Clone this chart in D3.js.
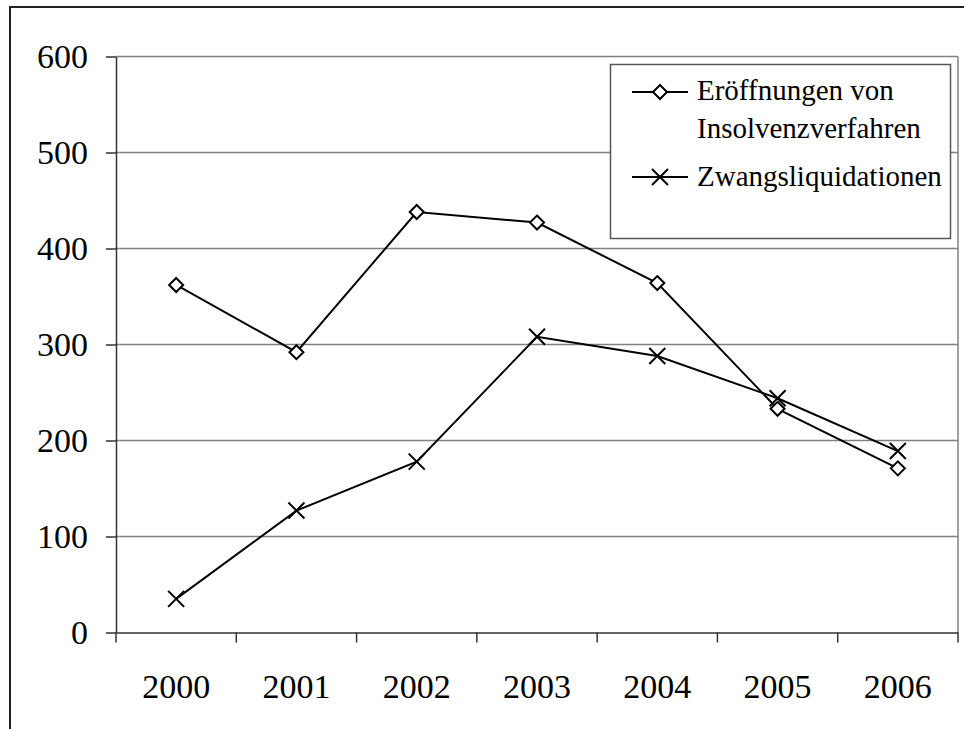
<!DOCTYPE html>
<html>
<head>
<meta charset="utf-8">
<script src="https://cdn.jsdelivr.net/npm/d3@7"></script>
<style>
  body { margin: 0; background: #fff; }
  svg { display: block; }
  svg text { font-family: "Liberation Serif", "Times New Roman", Times, Tinos, "Nimbus Roman", "DejaVu Serif", serif; }
</style>
</head>
<body>
<svg id="chart"></svg>
<script>
// chart data
var years = ["2000", "2001", "2002", "2003", "2004", "2005", "2006"];
var eroeffnungen = [362, 292, 438, 427, 364, 233, 171];
var zwangsliquidationen = [35, 127, 178, 308, 288, 244, 189];
var yTicks = [0, 100, 200, 300, 400, 500, 600];
var seriesNames = ["Eröffnungen von|Insolvenzverfahren", "Zwangsliquidationen"];

var dimensions = {
    width: 964,
    height: 729,
    margin: {
        top: 56.5,
        bottom: 96.5,
        right: 6,
        left: 116
    }
};

var svg = d3.select("#chart")
    .attr("width", dimensions.width)
    .attr("height", dimensions.height);

// outer frame (cut off at right and bottom like the reference)
svg.append("rect")
    .attr("x", 10)
    .attr("y", 7)
    .attr("width", 1000)
    .attr("height", 800)
    .attr("fill", "none")
    .attr("stroke", "#222")
    .attr("stroke-width", 2);

var xScale = d3.scaleBand()
    .domain(years)
    .range([dimensions.margin.left, dimensions.width - dimensions.margin.right])
    .padding(0);

var yScale = d3.scaleLinear()
    .domain([0, 600])
    .range([dimensions.height - dimensions.margin.bottom, dimensions.margin.top]);

var x0 = xScale.range()[0], x1 = xScale.range()[1];
var yBottom = yScale(0);

// gridlines
svg.append("g")
    .selectAll("line")
    .data(yTicks.filter(d => d > 0))
    .enter()
    .append("line")
    .attr("x1", x0)
    .attr("x2", x1)
    .attr("y1", d => yScale(d))
    .attr("y2", d => yScale(d))
    .attr("stroke", "#808080")
    .attr("stroke-width", 1.5);

// right border of plot area
svg.append("line")
    .attr("x1", x1).attr("x2", x1)
    .attr("y1", yScale(600)).attr("y2", yBottom)
    .attr("stroke", "#808080")
    .attr("stroke-width", 1.5);

// y axis
var yAxis = d3.axisLeft(yScale)
    .tickValues(yTicks)
    .tickSize(10)
    .tickPadding(18)
    .tickSizeOuter(0);
var yG = svg.append("g")
    .attr("transform", `translate(${x0}, 0)`)
    .call(yAxis)
    .attr("font-family", null)
    .attr("font-size", null);
yG.select(".domain").attr("stroke", "#333").attr("stroke-width", 1.5);
yG.selectAll(".tick line").attr("stroke", "#333").attr("stroke-width", 1.5);
yG.selectAll(".tick text")
    .attr("fill", "#000")
    .style("font-size", "34px");

// x axis (labels at band centers, ticks at band edges)
var xAxis = d3.axisBottom(xScale)
    .tickSize(0)
    .tickPadding(41)
    .tickSizeOuter(0);
var xG = svg.append("g")
    .attr("transform", `translate(0, ${yBottom})`)
    .call(xAxis)
    .attr("font-family", null)
    .attr("font-size", null);
xG.select(".domain").attr("stroke", "#333").attr("stroke-width", 1.5);
xG.selectAll(".tick text")
    .attr("fill", "#000")
    .style("font-size", "34px");

var edges = years.map(d => xScale(d)).concat([x1]);
xG.selectAll(".edge")
    .data(edges)
    .enter()
    .append("line")
    .attr("class", "edge")
    .attr("x1", d => d).attr("x2", d => d)
    .attr("y1", 0).attr("y2", 10)
    .attr("stroke", "#333")
    .attr("stroke-width", 1.5);

var cx = d => xScale(d) + xScale.bandwidth() / 2;

var line = d3.line()
    .x((d, i) => cx(years[i]))
    .y(d => yScale(d));

function diamond(g, x, y) {
    g.append("path")
        .attr("d", `M${x},${y - 7}L${x + 7},${y}L${x},${y + 7}L${x - 7},${y}Z`)
        .attr("fill", "#fff")
        .attr("stroke", "#000")
        .attr("stroke-width", 2);
}

function cross(g, x, y) {
    g.append("path")
        .attr("d", `M${x - 8},${y - 8}L${x + 8},${y + 8}M${x - 8},${y + 8}L${x + 8},${y - 8}`)
        .attr("fill", "none")
        .attr("stroke", "#000")
        .attr("stroke-width", 2);
}

// series lines
svg.append("path")
    .datum(zwangsliquidationen)
    .attr("d", line)
    .attr("fill", "none")
    .attr("stroke", "#000")
    .attr("stroke-width", 2);

svg.append("path")
    .datum(eroeffnungen)
    .attr("d", line)
    .attr("fill", "none")
    .attr("stroke", "#000")
    .attr("stroke-width", 2);

var markers = svg.append("g");
zwangsliquidationen.forEach((v, i) => cross(markers, cx(years[i]), yScale(v)));
eroeffnungen.forEach((v, i) => diamond(markers, cx(years[i]), yScale(v)));

// legend
var legend = svg.append("g");
legend.append("rect")
    .attr("x", 610.5)
    .attr("y", 64.5)
    .attr("width", 340)
    .attr("height", 174)
    .attr("fill", "#fff")
    .attr("stroke", "#555")
    .attr("stroke-width", 1.5);

var legendRows = [
    { y: 92, baseline: 100, marker: diamond },
    { y: 177, baseline: 186, marker: cross }
];

legendRows.forEach((row, i) => {
    legend.append("line")
        .attr("x1", 632).attr("x2", 688)
        .attr("y1", row.y).attr("y2", row.y)
        .attr("stroke", "#000")
        .attr("stroke-width", 2);
    row.marker(legend, 660, row.y);
    var parts = seriesNames[i].split("|");
    parts.forEach((t, j) => {
        legend.append("text")
            .attr("x", 697)
            .attr("y", row.baseline + j * 38)
            .style("font-size", "29px")
            .attr("fill", "#000")
            .text(t);
    });
});
</script>
</body>
</html>
